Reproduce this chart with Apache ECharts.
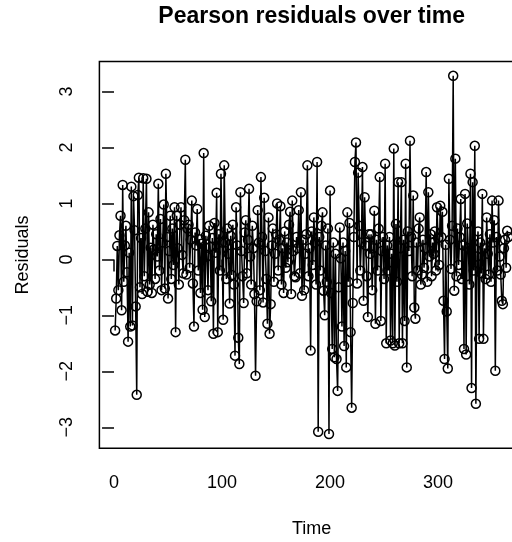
<!DOCTYPE html>
<html>
<head>
<meta charset="utf-8">
<script src="https://cdn.jsdelivr.net/npm/echarts@6/dist/echarts.min.js"></script>
<style>
html,body{margin:0;padding:0;background:#fff;overflow:hidden;}
#chart{width:512px;height:542px;}
</style>
</head>
<body>
<div id="chart"></div>
<script>
const residuals = [
 -1.27, -0.70, 0.24, -0.55, 0.43, 0.78, -0.91, 1.33, -0.40, 0.25,
 0.60, -0.23, -1.47, 0.12, -1.20, 1.30, -1.18, 1.13, 0.52, -0.84,
 -2.42, 1.15, 1.46, -0.50, 0.38, -0.62, 1.45, -0.30, 0.55, 1.44,
 -0.58, 0.84, -0.45, 0.21, -0.60, 0.62, 0.18, -0.35, 0.45, 0.05,
 1.35, -0.20, 0.72, -0.55, 0.30, 0.98, -0.52, 1.53, 0.40, -0.70,
 0.15, 0.78, -0.35, 0.55, -0.10, 0.93, -1.30, 0.78, 0.20, -0.45,
 0.62, 0.93, 0.08, -0.25, 0.70, 1.78, -0.27, 0.55, 0.62, -0.15,
 0.35, 1.05, -0.43, -1.20, 0.48, 0.25, 0.90, -0.20, 0.36, -0.60,
 0.28, -0.90, 1.90, -1.03, 0.42, 0.05, -0.55, 0.60, 0.22, -0.75,
 0.38, -1.33, 0.65, 0.12, 1.19, -1.30, 0.45, -0.20, 1.53, 0.30,
 -1.08, 1.68, 0.30, -0.35, 0.55, 0.10, -0.79, 0.42, -0.28, 0.62,
 -0.45, -1.72, 0.93, 0.25, -1.40, -1.87, 1.20, 0.15, -0.30, -0.78,
 0.48, 0.70, -0.25, 0.35, 1.26, 0.05, -0.45, 0.60, 0.20, -0.62,
 -2.08, -0.75, 0.88, 0.30, -0.55, 1.47, 0.40, -0.77, 1.10, 0.15,
 -0.35, -1.15, 0.75, -1.33, -0.80, 0.25, 0.55, -0.40, 0.10, 0.45,
 1.00, -0.20, 0.35, 0.95, -0.45, 0.20, -0.60, 0.50, -0.15, 0.30,
 -0.05, 0.62, 0.85, -0.62, 1.05, 0.15, -0.30, -0.32, 0.40, 0.20,
 0.88, -0.25, 1.20, -0.65, 0.35, -0.55, 0.10, 0.45, 1.68, -0.30,
 0.20, -1.63, 0.50, -0.10, 0.75, 0.30, -0.45, 1.74, -3.08, 0.40,
 -0.20, 0.60, 0.84, -0.56, -1.00, 0.25, -0.40, 0.55, -3.12, 1.23,
 -0.60, -1.60, 0.30, -1.75, 0.10, -1.78, -2.35, -0.50, 0.57, 0.02,
 -1.20, 0.30, -1.55, 0.15, -1.93, 0.84, -0.40, 0.65, -1.30, -2.65,
 -0.78, 0.40, 1.74, 2.09, -0.43, 1.55, 0.60, -0.20, 0.30, 1.65,
 -0.74, 1.11, 0.25, -0.30, -1.03, 0.45, 0.10, 0.45, -0.55, 0.20,
 0.87, -1.15, 0.35, -0.20, 0.55, 1.47, -1.10, 0.15, 0.40, -0.35,
 1.71, -1.50, 0.25, -0.20, 0.40, -1.45, 0.10, -1.50, 1.98, -1.54,
 0.63, -0.40, 1.38, -1.50, 0.20, 1.38, -1.50, 0.35, -1.10, 1.71,
 -1.93, 0.50, 0.15, 2.12, 0.40, -0.30, 1.14, -0.86, -1.06, 0.30,
 -0.20, 0.55, 0.75, -0.45, -0.27, 0.35, -0.15, 0.20, 1.56, -0.40,
 1.20, 0.05, 0.45, -0.30, 0.30, 0.10, 0.50, -0.20, 0.93, 0.38,
 -0.10, 0.96, 0.40, 0.85, -0.74, -1.78, 0.26, -0.93, -1.95, 1.44,
 0.35, -0.17, 0.60, 3.28, -0.56, 1.80, -0.30, 0.55, -0.10, 0.40,
 1.08, -0.35, 0.25, -1.60, 1.17, -1.70, 0.64, 0.20, -0.45, 1.53,
 -2.30, 1.38, -0.20, 2.03, -2.58, 0.05, 0.50, -1.42, 0.30, -0.25,
 1.17, -1.42, 0.20, -0.35, 0.75, 0.10, -0.27, 0.45, -0.40, 1.05,
 0.30, 0.70, -1.99, 0.40, -0.20, 1.05, 0.05, -0.27, -0.74, -0.80,
 0.20, 0.35, -0.15, 0.51, 0.40
];
const xTicks = [0, 100, 200, 300];
const yTicks = [-3, -2, -1, 0, 1, 2, 3];
const titleText = 'Pearson residuals over time';
const xTitle = 'Time';
const yTitle = 'Residuals';

const seriesData = residuals.map((v, i) => [i + 1, v]);
const n = residuals.length;
const yMinV = Math.min(...residuals), yMaxV = Math.max(...residuals);
const xPad = 0.04 * (n - 1), yPad = 0.04 * (yMaxV - yMinV);

const FONT = '"Liberation Sans", Arial, Helvetica, sans-serif';
const LW = 1.5;

const chart = echarts.init(document.getElementById('chart'), null, {renderer: 'canvas'});
chart.setOption({
  animation: false,
  backgroundColor: '#fff',
  grid: {
    left: 99.4, top: 61.5, width: 424.6, height: 386.8,
    containLabel: false, outerBoundsMode: 'none',
    show: true, borderColor: '#000', borderWidth: LW, backgroundColor: 'transparent'
  },
  xAxis: {
    type: 'value', min: 1 - xPad, max: n + xPad,
    axisLine: {show: false}, splitLine: {show: false},
    axisTick: {show: true, inside: false, customValues: xTicks, length: 12, lineStyle: {color: '#000', width: LW}},
    axisLabel: {customValues: xTicks, margin: 35, verticalAlign: 'middle', fontSize: 18, fontFamily: FONT, color: '#000'}
  },
  yAxis: {
    type: 'value', min: yMinV - yPad, max: yMaxV + yPad,
    axisLine: {show: false}, splitLine: {show: false},
    axisTick: {show: true, inside: false, customValues: yTicks, length: 12, lineStyle: {color: '#000', width: LW}},
    axisLabel: {customValues: yTicks, rotate: 90, margin: 32.4, align: 'center', verticalAlign: 'middle',
      fontSize: 18, fontFamily: FONT, color: '#000',
      formatter: v => String(v).replace('-', '\u2212')}
  },
  series: [{
    type: 'line', data: seriesData, symbol: 'circle', symbolSize: 9,
    itemStyle: {color: 'transparent', borderColor: '#000', borderWidth: LW},
    lineStyle: {color: '#000', width: LW},
    emphasis: {disabled: true}, silent: true
  }],
  graphic: [
    {type: 'text', x: 311.7, y: 16.5, style: {text: titleText, font: 'bold 23px ' + FONT, fill: '#000', align: 'center', verticalAlign: 'middle'}},
    {type: 'text', x: 311.7, y: 529, style: {text: xTitle, font: '18px ' + FONT, fill: '#000', align: 'center', verticalAlign: 'middle'}},
    {type: 'text', x: 23, y: 255, rotation: Math.PI / 2, style: {text: yTitle, font: '18px ' + FONT, fill: '#000', align: 'center', verticalAlign: 'middle'}}
  ]
});
</script>
</body>
</html>
